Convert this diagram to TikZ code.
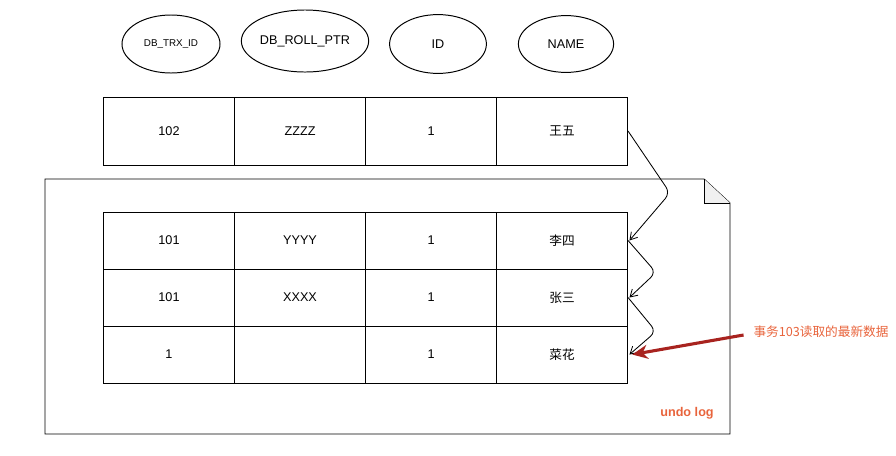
\documentclass[tikz,border=0pt]{standalone}
\usepackage{fontspec}
\setmainfont{Liberation Sans}
\newfontfamily\cjk{Noto Sans CJK SC}
\usetikzlibrary{shapes.geometric, positioning, arrows.meta, patterns}

\definecolor{notered}{HTML}{E8643C}
\definecolor{arrowred}{HTML}{A8231F}

\tikzset{
  field/.style={draw, ellipse, line width=0.7pt, inner sep=0pt, font=\fontsize{9}{10}\selectfont},
  cell/.style={draw, line width=0.6pt, minimum width=3.275cm, minimum height=1.7cm, inner sep=0pt, font=\fontsize{9}{10}\selectfont},
  row/.style={cell, minimum height=1.425cm},
  chain/.style={-{Straight Barb[length=5pt, width=6pt]}, line width=0.6pt, rounded corners=5pt},
}

\begin{document}
\begin{tikzpicture}[x=0.025cm, y=-0.025cm, node distance=3.275cm, on grid]
  \useasboundingbox (0,0) rectangle (896,455);

  % column heads
  \node[field, minimum width=2.45cm, minimum height=1.45cm, font=\fontsize{7}{8}\selectfont] (trx) at (171,44) {DB\_TRX\_ID};
  \node[field, minimum width=2.5cm, minimum height=1.55cm] (roll) at (305,41) {DB\_ROLL\_PTR};
  \node[field, minimum width=2.42cm, minimum height=1.47cm] (id) at (438,44) {ID};
  \node[field, minimum width=2.38cm, minimum height=1.42cm] (name) at (566,44) {NAME};

  % current row
  \node[cell] (t1) at (169,131) {102};
  \node[cell] (t2) [right=of t1] {ZZZZ};
  \node[cell] (t3) [right=of t2] {1};
  \node[cell] (t4) [right=of t3] {\cjk 王五};

  % undo log page
  \draw[line width=0.7pt] (45,179) -- (704,179) -- (730,203) -- (730,434) -- (45,434) -- cycle;
  \draw[line width=0.6pt, fill=gray!12] (704,179) -- (704,203) -- (730,203);
  \node[text=notered, font=\fontsize{9}{10}\selectfont\bfseries] (log) at (687,413) {undo log};

  % old versions
  \node[row] (a1) at (169,240.5) {101};
  \node[row] (a2) [right=of a1] {YYYY};
  \node[row] (a3) [right=of a2] {1};
  \node[row] (a4) [right=of a3] {\cjk 李四};

  \node[row] (b1) [below=1.425cm of a1] {101};
  \node[row] (b2) [right=of b1] {XXXX};
  \node[row] (b3) [right=of b2] {1};
  \node[row] (b4) [right=of b3] {\cjk 张三};

  \node[row] (c1) [below=1.425cm of b1] {1};
  \node[row] (c2) [right=of c1] {};
  \node[row] (c3) [right=of c2] {1};
  \node[row] (c4) [right=of c3] {\cjk 菜花};

  % roll pointers
  \draw[chain] (t4.east) -- ++(42,62) -- ([xshift=1pt]a4.east);
  \draw[chain] (a4.east) -- ++(28,32) -- ([xshift=1pt]b4.east);
  \draw[chain] (b4.east) -- ++(28,34) -- ([xshift=1pt]c4.east);

  \node[text=notered, font=\cjk\fontsize{9}{11}\selectfont] (note) at (821,332) {事务103读取的最新数据};
  \draw[arrowred, line width=2.2pt, -{Stealth[length=11pt, width=10pt]}] (note.west) ++(-5,3) -- ([xshift=3pt]c4.east);
\end{tikzpicture}
\end{document}
